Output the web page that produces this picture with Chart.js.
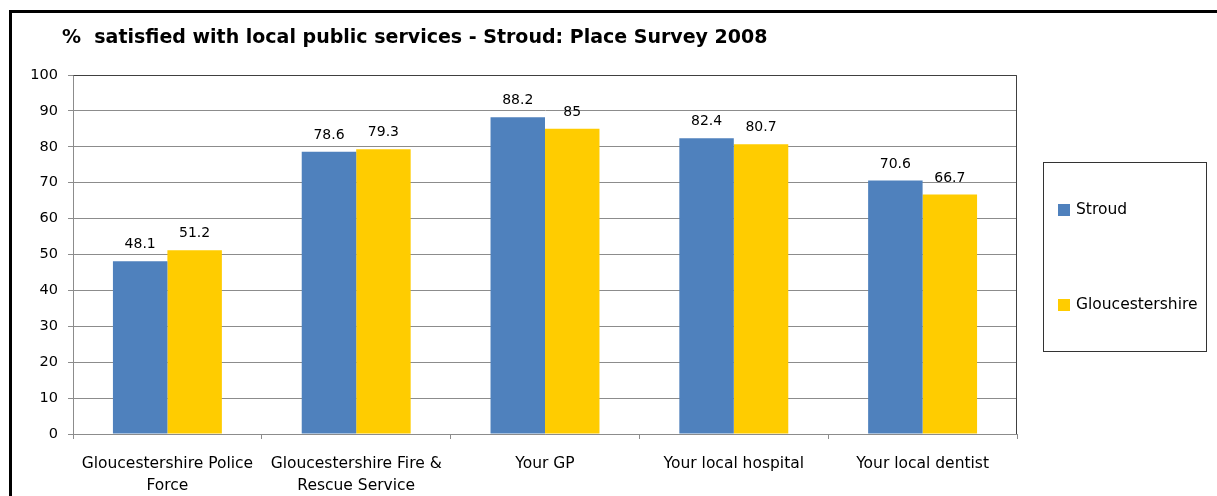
<!DOCTYPE html>
<html>
<head>
<meta charset="utf-8">
<script src="https://cdn.jsdelivr.net/npm/chart.js"></script>
<style>
  html, body { margin: 0; padding: 0; background: #fff; }
  #wrap { width: 1217px; height: 496px; }
</style>
</head>
<body>
<div id="wrap"><canvas id="surveyChart" width="1217" height="496"></canvas></div>
<script>
// satisfaction with local public services, Place Survey 2008
const services = [
    ["Gloucestershire Police", "Force"],
    ["Gloucestershire Fire &", "Rescue Service"],
    "Your GP",
    "Your local hospital",
    "Your local dentist"
];
const stroudValues = [48.1, 78.6, 88.2, 82.4, 70.6];
const gloucsValues = [51.2, 79.3, 85, 80.7, 66.7];
const seriesNames = ["Stroud", "Gloucestershire"];
const seriesColors = ["#4f81bd", "#ffcc00"];
const chartTitle = "%  satisfied with local public services - Stroud: Place Survey 2008";

const FONT = "'DejaVu Sans', sans-serif";

// frame, title and plot border
const framePlugin = {
    id: "frame",
    beforeDraw(chart) {
        const ctx = chart.ctx;
        ctx.save();
        ctx.fillStyle = "#fff";
        ctx.fillRect(0, 0, chart.width, chart.height);
        ctx.restore();
    },
    afterDraw(chart) {
        const ctx = chart.ctx;
        const a = chart.chartArea;
        ctx.save();
        // outer box
        ctx.strokeStyle = "#000";
        ctx.lineWidth = 3;
        ctx.strokeRect(10.5, 11.5, chart.width + 20, chart.height + 20);
        // plot area top & right edge
        ctx.strokeStyle = "#404040";
        ctx.lineWidth = 1;
        ctx.beginPath();
        ctx.moveTo(Math.round(a.left) + 0.5, Math.round(a.top) + 0.5);
        ctx.lineTo(Math.round(a.right) - 0.5, Math.round(a.top) + 0.5);
        ctx.lineTo(Math.round(a.right) - 0.5, Math.round(a.bottom));
        ctx.stroke();
        // title
        ctx.fillStyle = "#000";
        ctx.font = "bold 19px " + FONT;
        ctx.textAlign = "left";
        ctx.textBaseline = "alphabetic";
        ctx.fillText(chartTitle, 62, 43);
        ctx.restore();
    }
};

// value above each bar
const valueLabels = {
    id: "valueLabels",
    afterDatasetsDraw(chart) {
        const ctx = chart.ctx;
        ctx.save();
        ctx.fillStyle = "#000";
        ctx.font = "14px " + FONT;
        ctx.textAlign = "center";
        ctx.textBaseline = "alphabetic";
        chart.data.datasets.forEach((ds, i) => {
            chart.getDatasetMeta(i).data.forEach((bar, j) => {
                ctx.fillText(String(ds.data[j]), bar.x, bar.y - 13);
            });
        });
        ctx.restore();
    }
};

// boxed legend on the right
const boxLegend = {
    id: "boxLegend",
    afterDraw(chart) {
        const ctx = chart.ctx;
        ctx.save();
        ctx.strokeStyle = "#333";
        ctx.lineWidth = 1;
        ctx.strokeRect(1043.5, 162.5, 163, 189);
        ctx.font = "15.5px " + FONT;
        ctx.textAlign = "left";
        ctx.textBaseline = "middle";
        const rows = [210, 305];
        chart.data.datasets.forEach((ds, i) => {
            ctx.fillStyle = ds.backgroundColor;
            ctx.fillRect(1058, rows[i] - 6, 12, 12);
            ctx.fillStyle = "#000";
            ctx.fillText(ds.label, 1076, rows[i]);
        });
        ctx.restore();
    }
};

new Chart(document.getElementById("surveyChart"), {
    type: "bar",
    data: {
        labels: services,
        datasets: [
            { label: seriesNames[0], data: stroudValues, backgroundColor: seriesColors[0] },
            { label: seriesNames[1], data: gloucsValues, backgroundColor: seriesColors[1] }
        ]
    },
    options: {
        responsive: false,
        devicePixelRatio: 1,
        animation: false,
        layout: { padding: { left: 0, top: 75, right: 200, bottom: 0 } },
        datasets: { bar: { barPercentage: 1, categoryPercentage: 0.577 } },
        plugins: {
            legend: { display: false },
            title: { display: false },
            tooltip: { enabled: false }
        },
        scales: {
            x: {
                afterFit: (s) => { s.height = 62; },
                grid: { drawOnChartArea: false, drawTicks: true, tickLength: 5, color: "#8c8c8c" },
                border: { color: "#8c8c8c" },
                ticks: {
                    color: "#000",
                    padding: 14,
                    maxRotation: 0,
                    autoSkip: false,
                    font: { family: FONT, size: 15.5, lineHeight: 1.42 }
                }
            },
            y: {
                min: 0,
                max: 100,
                afterFit: (s) => { s.width = 73; },
                grid: { color: "#8c8c8c", tickLength: 5 },
                border: { color: "#8c8c8c" },
                ticks: {
                    stepSize: 10,
                    color: "#000",
                    padding: 10,
                    font: { family: FONT, size: 14.5 }
                }
            }
        }
    },
    plugins: [framePlugin, valueLabels, boxLegend]
});
</script>
</body>
</html>
